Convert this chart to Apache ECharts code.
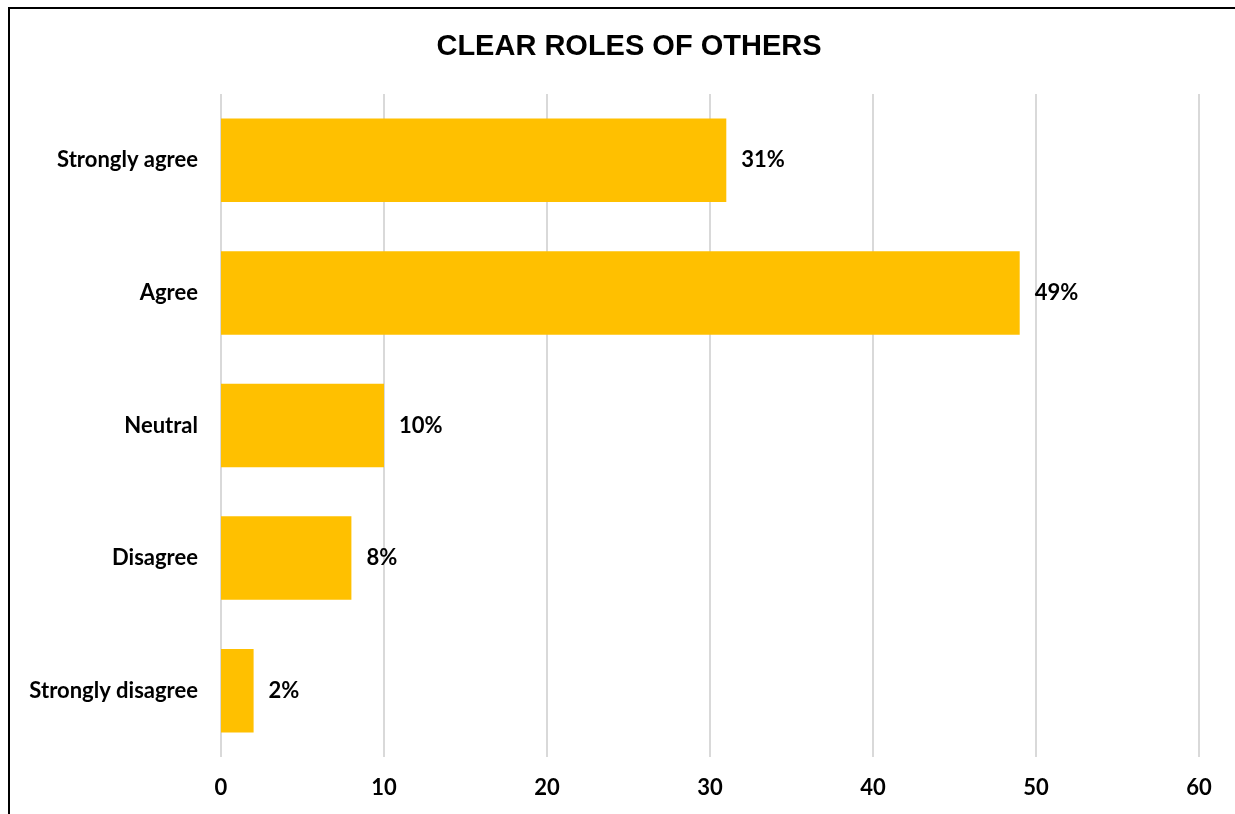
<!DOCTYPE html>
<html>
<head>
<meta charset="utf-8">
<script src="https://cdn.jsdelivr.net/npm/echarts@6/dist/echarts.min.js"></script>
<style>
  html, body { margin: 0; padding: 0; background: #fff; }
  #frame { position: absolute; left: 8px; top: 7px; width: 1240px; height: 820px;
           border-top: 2px solid #000; border-left: 2px solid #000; box-sizing: border-box; }
  #chart { position: absolute; left: 0; top: 0; width: 1235px; height: 814px; }
</style>
</head>
<body>
<div id="frame"></div>
<div id="chart"></div>
<script>
// Survey responses: share of respondents per answer
const categories = ['Strongly agree', 'Agree', 'Neutral', 'Disagree', 'Strongly disagree'];
const values = [31, 49, 10, 8, 2];
const xTicks = { min: 0, max: 60, interval: 10 };

const font = 'Lato, "Open Sans", sans-serif';
const chart = echarts.init(document.getElementById('chart'), null, { renderer: 'canvas' });
chart.setOption({
  animation: false,
  title: {
    text: 'CLEAR ROLES OF OTHERS',
    left: 624, top: 27, textAlign: 'center',
    textStyle: { fontFamily: '"Liberation Sans", Arial, sans-serif', fontWeight: 'bold', fontSize: 29, color: '#000' }
  },
  grid: { left: 221, right: 36, top: 94, bottom: 57, containLabel: false },
  xAxis: {
    type: 'value', min: xTicks.min, max: xTicks.max, interval: xTicks.interval,
    axisLine: { show: false }, axisTick: { show: false },
    splitLine: { lineStyle: { color: '#d9d9d9', width: 2 } },
    axisLabel: { margin: 20, fontFamily: font, fontWeight: 'bold', fontSize: 22, color: '#000' }
  },
  yAxis: {
    type: 'category', data: categories, inverse: true,
    axisLine: { show: false }, axisTick: { show: false },
    axisLabel: { margin: 23, fontFamily: font, fontWeight: 'bold', fontSize: 22, color: '#000' }
  },
  series: [{
    type: 'bar', data: values, barCategoryGap: '37%',
    itemStyle: { color: '#FFC000' },
    label: {
      show: true, position: 'right', distance: 15,
      formatter: p => p.value + '%',
      fontFamily: font, fontWeight: 'bold', fontSize: 22, color: '#000'
    }
  }]
});
</script>
</body>
</html>
